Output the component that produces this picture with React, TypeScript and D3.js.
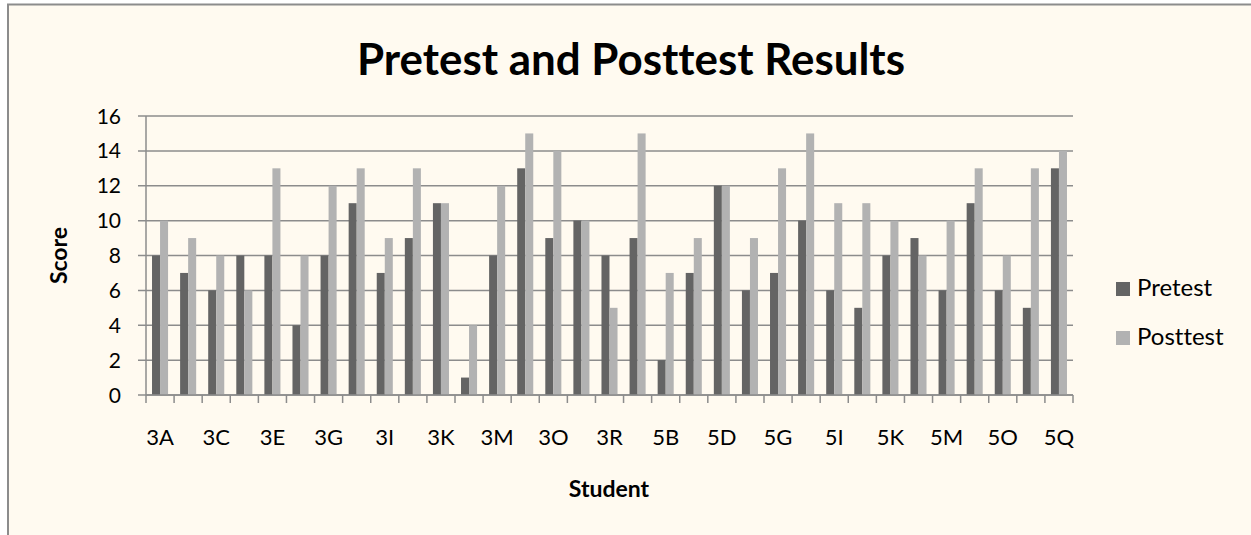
import React from 'react'
import * as d3 from 'd3'

// chart data
const students = ["3A", "3B", "3C", "3D", "3E", "3F", "3G", "3H", "3I", "3J", "3K", "3L", "3M", "3N", "3O", "3P", "3R",
    "5A", "5B", "5C", "5D", "5E", "5G", "5H", "5I", "5J", "5K", "5L", "5M", "5N", "5O", "5P", "5Q"]
const pretest = [8, 7, 6, 8, 8, 4, 8, 11, 7, 9, 11, 1, 8, 13, 9, 10, 8, 9, 2, 7, 12, 6, 7, 10, 6, 5, 8, 9, 6, 11, 6, 5, 13]
const posttest = [10, 9, 8, 6, 13, 8, 12, 13, 9, 13, 11, 4, 12, 15, 14, 10, 5, 15, 7, 9, 12, 9, 13, 15, 11, 11, 10, 8, 10, 13, 8, 13, 14]
const seriesNames = ["Pretest", "Posttest"]
const yTicks = [0, 2, 4, 6, 8, 10, 12, 14, 16]

const colors = ["#646464", "#b2b2b2"]
const grid = "#8c8c8c"
const font = "Lato, 'Open Sans', sans-serif"
// Lato joins "tt" by default, Calibri does not
const noLig = { fontVariantLigatures: 'none', fontFeatureSettings: '"liga" 0, "clig" 0, "dlig" 0' } as React.CSSProperties

const App = () => {
    const width = 1251
    const height = 535
    const plot = { left: 146, right: 1073, top: 116, bottom: 395 }

    const x = d3.scaleBand().domain(students).range([plot.left, plot.right]).padding(0)
    const y = d3.scaleLinear().domain([0, 16]).range([plot.bottom, plot.top])

    // two bars per band, gap 150% of a bar
    const barW = x.bandwidth() / 3.5
    const gap = barW * 1.5
    const series = [pretest, posttest]

    return (
        <svg width={width} height={height} style={{ position: 'absolute', left: 0, top: 0, background: '#fff' }}>
            <rect x={8} y={4.5} width={1400} height={700} fill="#fffaf0" stroke={grid} strokeWidth={2} />

            <text x={631} y={75} textAnchor="middle" fontFamily={font} fontWeight="bold" fontSize={44} style={noLig}
                textLength={548} lengthAdjust="spacingAndGlyphs" fill="#000">
                Pretest and Posttest Results
            </text>

            {/* gridlines + y ticks */}
            {yTicks.map(t => (
                <g key={t}>
                    <line x1={plot.left - 8} x2={plot.right} y1={y(t)} y2={y(t)} stroke={grid} strokeWidth={1.5} />
                    <text x={121} y={y(t)} dy="0.36em" textAnchor="end" fontFamily={font} fontSize={21} fill="#000">{t}</text>
                </g>
            ))}
            <line x1={plot.left} x2={plot.left} y1={plot.top} y2={plot.bottom} stroke={grid} strokeWidth={1.5} />

            {/* bars */}
            {series.map((vals, s) => (
                <g key={s} fill={colors[s]}>
                    {vals.map((v, i) => (
                        <rect key={i}
                            x={(x(students[i]) as number) + gap / 2 + s * barW}
                            y={y(v)}
                            width={barW}
                            height={y(0) - y(v)} />
                    ))}
                </g>
            ))}

            {/* x axis */}
            <line x1={plot.left} x2={plot.right} y1={plot.bottom} y2={plot.bottom} stroke={grid} strokeWidth={1.5} />
            {students.map(d => (
                <line key={d} x1={x(d)} x2={x(d)} y1={plot.bottom} y2={plot.bottom + 8} stroke={grid} strokeWidth={1.5} />
            ))}
            <line x1={plot.right} x2={plot.right} y1={plot.bottom} y2={plot.bottom + 8} stroke={grid} strokeWidth={1.5} />
            {students.filter((d, i) => i % 2 === 0).map(d => (
                <text key={d} x={(x(d) as number) + x.bandwidth() / 2} y={445} textAnchor="middle"
                    fontFamily={font} fontSize={22} fill="#000">{d}</text>
            ))}

            <text x={609} y={497} textAnchor="middle" fontFamily={font} fontWeight="bold" fontSize={23} fill="#000">Student</text>
            <text transform={`translate(67,${(plot.top + plot.bottom) / 2}) rotate(-90)`} textAnchor="middle"
                fontFamily={font} fontWeight="bold" fontSize={23} fill="#000">Score</text>

            {/* legend */}
            {seriesNames.map((n, i) => (
                <g key={n} transform={`translate(1116,${282 + i * 49})`}>
                    <rect width={14} height={14} fill={colors[i]} />
                    <text x={21} y={14} fontFamily={font} fontSize={24} style={noLig} fill="#000">{n}</text>
                </g>
            ))}
        </svg>
    )
}

export default App
